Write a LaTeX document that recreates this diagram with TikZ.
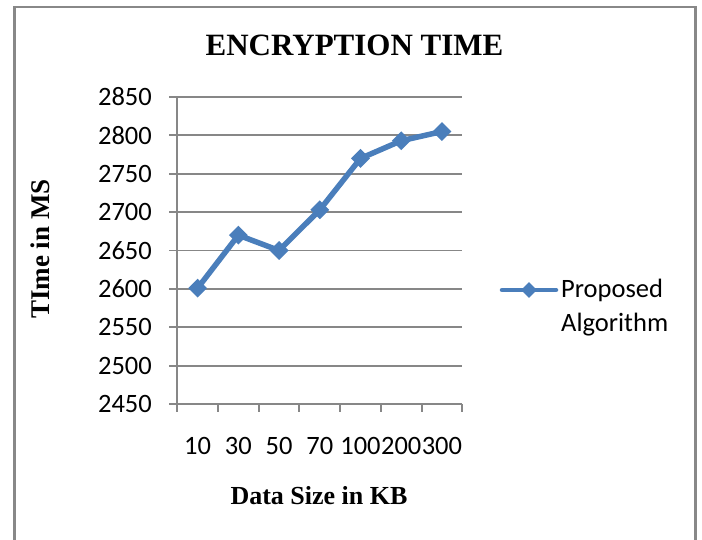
\documentclass[tikz,border=0pt]{standalone}
\usepackage{fontspec}
\setmainfont{Liberation Serif}
\newfontfamily\calib{Carlito}
\usetikzlibrary{shapes.geometric}
\definecolor{serieblue}{HTML}{4A7EBB}
\definecolor{gridgray}{HTML}{878787}
\definecolor{framegray}{HTML}{888888}
\tikzset{
  gridline/.style={draw=gridgray, line width=1.9pt},
  ticklabel/.style={font=\calib\fontsize{26.5}{30}\selectfont, inner sep=0pt},
  marker/.style={diamond, aspect=1, fill=serieblue, draw=none, inner sep=0pt,
                 minimum width=19pt, minimum height=19pt},
  series/.style={draw=serieblue, line width=5.5pt, line join=round},
  axistitle/.style={font=\bfseries\fontsize{26}{30}\selectfont, inner sep=0pt},
}
\begin{document}
\begin{tikzpicture}[x=1pt, y=-1pt]
\useasboundingbox (0,0) rectangle (702,540);
\clip (0,0) rectangle (702,540);
% outer chart frame (open at the bottom edge of the page)
\draw[framegray, line width=2.8pt] (14.2,580) -- (14.2,7) -- (695.3,7) -- (695.3,580);

% horizontal gridlines with left ticks, value labels
\foreach \v [count=\i from 0] in {2450,2500,2550,2600,2650,2700,2750,2800,2850} {
  \pgfmathsetmacro{\yy}{404-38.375*\i}
  \draw[gridline] (169,\yy) -- (462.3,\yy);
  \node[ticklabel, anchor=east] at (152,\yy) {\v};
}
% vertical axis
\draw[gridline] (177.3,97) -- (177.3,412);
% category ticks and labels
\foreach \k in {1,...,7} {
  \pgfmathsetmacro{\xx}{177.3+40.714*\k}
  \draw[gridline] (\xx,404) -- (\xx,412);
}
\foreach \lab [count=\k from 0] in {10,30,50,70,100,200,300} {
  \pgfmathsetmacro{\xx}{177.3+40.714*(\k+0.5)}
  \node[ticklabel, anchor=base] at (\xx,454) {\lab};
}

% data points
\foreach \val [count=\k from 0] in {2601,2670,2650,2703,2770,2793,2805} {
  \pgfmathsetmacro{\xx}{177.3+40.714*(\k+0.5)}
  \pgfmathsetmacro{\yy}{404-(\val-2450)*38.375/50}
  \coordinate (c\k) at (\xx,\yy);
}
\draw[series] (c0) -- (c1) -- (c2) -- (c3) -- (c4) -- (c5) -- (c6);
\foreach \k in {0,...,6} \node[marker] (p\k) at (c\k) {};

% titles
\node[font=\bfseries\fontsize{31}{36}\selectfont, inner sep=0pt, anchor=base] (title) at (354.5,56) {ENCRYPTION TIME};
\node[axistitle, anchor=base] (xtitle) at (319,504) {Data Size in KB};
\node[axistitle, font=\bfseries\fontsize{27}{30}\selectfont, rotate=90, anchor=base] (ytitle) at (49,249) {TIme in MS};

% legend
\coordinate (la) at (502,290);
\coordinate (lb) at (556,290);
\draw[series, line width=4.5pt, line cap=round] (la) -- (lb);
\node[marker, minimum width=16pt, minimum height=16pt] (lm) at (529,290) {};
\node[ticklabel, font=\calib\fontsize{26.5}{33.5}\selectfont, anchor=north west, align=left] (ltext) at (561,279) {Proposed\\Algorithm};
\end{tikzpicture}
\end{document}
